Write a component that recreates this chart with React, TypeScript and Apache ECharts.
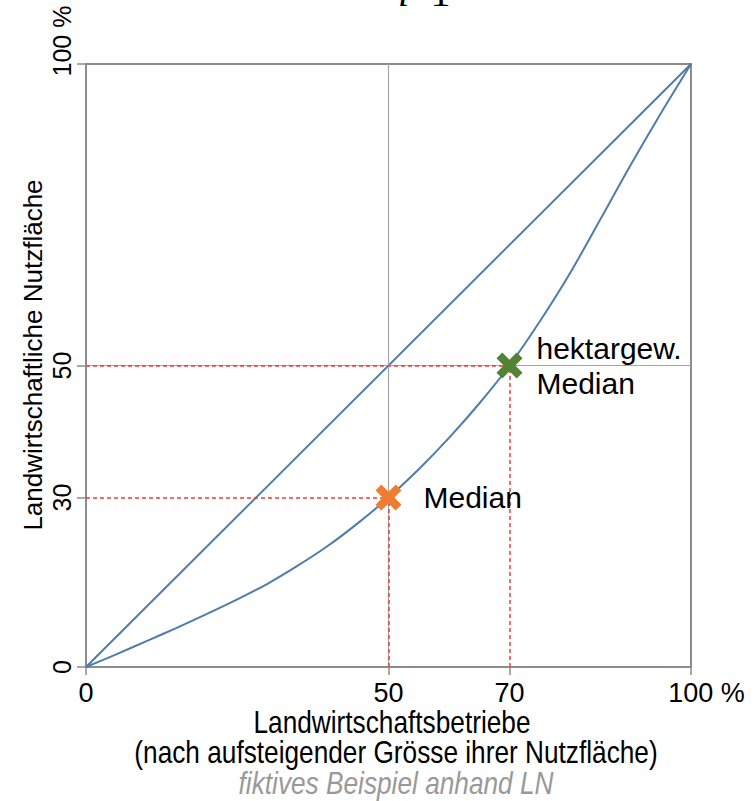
import React, { useEffect, useRef } from "react";
import * as echarts from "echarts";

// Lorenz curve (share of farms vs. share of agricultural area)
const lorenzX = [0, 5, 10, 15, 20, 25, 30, 35, 40, 45, 50, 55, 60, 65, 70, 75, 80, 85, 90, 95, 100];
const lorenzY = [0, 2.1, 4.3, 6.5, 8.8, 11.2, 13.8, 16.8, 20.1, 23.9, 28.1, 32.8, 38.0, 43.7, 50, 57.3, 65.3, 74.2, 83.2, 91.8, 100];
// line of equal distribution
const equalX = [0, 100];
const equalY = [0, 100];
// highlighted points
const medianPoint = [50, 28.1];
const hektarPoint = [70, 50];
const medianLabel = "Median";
const hektarLabel = "hektargew.\nMedian";
// ticks
const xTickValues = [0, 50, 70, 100];
const xTickLabels = ["0", "50", "70", "100 %"];
const yTickValues = [0, 28.1, 50, 100];
const yTickLabels = ["0", "30", "50", "100 %"];
// titles
const xTitle1 = "Landwirtschaftsbetriebe";
const xTitle2 = "(nach aufsteigender Grösse ihrer Nutzfläche)";
const xNote = "fiktives Beispiel anhand LN";
const yTitle = "Landwirtschaftliche Nutzfläche";

const SANS = "'Liberation Sans', Arial, sans-serif";
const SERIF = "'Liberation Serif', 'Times New Roman', serif";
const BLUE = "#4f7dab";
const RED = "#f03c3c";
const GRAY = "#8c8c8c";
const XSYM =
  "path://M0,4.5L4.5,0L10,5.5L15.5,0L20,4.5L14.5,10L20,15.5L15.5,20L10,14.5L4.5,20L0,15.5L5.5,10Z";

function labelFor(values: number[], labels: string[], v: number) {
  const i = values.findIndex((t) => Math.abs(t - v) < 1e-6);
  if (i < 0) return "";
  const s = labels[i];
  return s.indexOf("%") >= 0 ? "{p|" + s + "}" : s;
}

export default function App() {
  const ref = useRef<HTMLDivElement>(null);
  useEffect(() => {
    if (!ref.current) return;
    const chart = echarts.init(ref.current, undefined, { renderer: "svg" });
    const pairs = (xs: number[], ys: number[]) => xs.map((x, i) => [x, ys[i]]);
    const redDash = { color: RED, type: [4, 3], width: 1.5 };
    const titleText = (text: string, x: number, y: number, extra: any = {}) => ({
      type: "text",
      x,
      y,
      scaleX: 0.82,
      style: {
        text,
        fontSize: 32,
        fontFamily: SANS,
        fill: "#000",
        align: "center",
        verticalAlign: "middle",
        ...extra,
      },
    });
    chart.setOption({
      animation: false,
      backgroundColor: "#fff",
      grid: {
        left: 86,
        right: 64,
        top: 64,
        bottom: 134,
        show: true,
        borderColor: GRAY,
        borderWidth: 2,
        backgroundColor: "transparent",
      },
      xAxis: {
        type: "value",
        min: 0,
        max: 100,
        axisLine: { show: false },
        splitLine: { show: false },
        axisTick: {
          show: true,
          customValues: xTickValues,
          length: 8,
          lineStyle: { color: GRAY, width: 1.5 },
        },
        axisLabel: {
          customValues: xTickValues,
          formatter: (v: number) => labelFor(xTickValues, xTickLabels, v),
          margin: 12,
          fontSize: 27,
          fontFamily: SANS,
          color: "#000",
          rich: {
            p: { fontSize: 27, fontFamily: SANS, color: "#000", padding: [0, 0, 0, 31] },
          },
        },
      },
      yAxis: {
        type: "value",
        min: 0,
        max: 100,
        axisLine: { show: false },
        splitLine: { show: false },
        axisTick: {
          show: true,
          customValues: yTickValues,
          length: 9,
          lineStyle: { color: GRAY, width: 1.5 },
        },
        axisLabel: {
          customValues: yTickValues,
          formatter: (v: number) => labelFor(yTickValues, yTickLabels, v),
          rotate: 90,
          margin: 12,
          fontSize: 25,
          fontFamily: SANS,
          color: "#000",
          rich: {
            p: { fontSize: 25, fontFamily: SANS, color: "#000", padding: [0, 0, 0, 46] },
          },
        },
      },
      graphic: [
        {
          type: "text",
          x: 33,
          y: 355,
          rotation: Math.PI / 2,
          style: {
            text: yTitle,
            fontSize: 26,
            fontFamily: SANS,
            fill: "#000",
            align: "center",
            verticalAlign: "middle",
          },
        },
        titleText(xTitle1, 392, 722),
        titleText(xTitle2, 396, 752),
        titleText(xNote, 396, 783, { fontStyle: "italic", fill: "#999999" }),
        {
          type: "text",
          x: 398,
          y: 12,
          style: { text: "i", fontSize: 40, fontFamily: SERIF, fontStyle: "italic", fill: "#000", align: "left", verticalAlign: "bottom" },
        },
        {
          type: "text",
          x: 408,
          y: 12,
          style: { text: "=1", fontSize: 40, fontFamily: SERIF, fill: "#000", align: "left", verticalAlign: "bottom" },
        },
      ],
      series: [
        {
          type: "line",
          data: [],
          silent: true,
          markLine: {
            silent: true,
            symbol: ["none", "none"],
            label: { show: false },
            lineStyle: { color: "#a6a6a6", width: 1.2, type: "solid" },
            data: [
              { xAxis: medianPoint[0] },
              { yAxis: hektarPoint[1] },
              [{ coord: [0, hektarPoint[1]], lineStyle: redDash }, { coord: hektarPoint }],
              [{ coord: [hektarPoint[0], 0], lineStyle: redDash }, { coord: hektarPoint }],
              [{ coord: [0, medianPoint[1]], lineStyle: redDash }, { coord: medianPoint }],
              [{ coord: [medianPoint[0], 0], lineStyle: redDash }, { coord: medianPoint }],
            ],
          },
        },
        {
          type: "line",
          data: pairs(equalX, equalY),
          symbol: "none",
          lineStyle: { color: BLUE, width: 2 },
          silent: true,
        },
        {
          type: "line",
          data: pairs(lorenzX, lorenzY),
          symbol: "none",
          smooth: 0.3,
          lineStyle: { color: BLUE, width: 2 },
          silent: true,
        },
        {
          type: "scatter",
          data: [medianPoint],
          symbol: XSYM,
          symbolSize: 26,
          itemStyle: { color: "#ED7D31", opacity: 1 },
          z: 5,
          label: {
            show: true,
            position: "right",
            distance: 22,
            formatter: medianLabel,
            fontSize: 30,
            fontFamily: SANS,
            color: "#000",
          },
        },
        {
          type: "scatter",
          data: [hektarPoint],
          symbol: XSYM,
          symbolSize: 26,
          itemStyle: { color: "#548235", opacity: 1 },
          z: 5,
          label: {
            show: true,
            position: "right",
            distance: 14,
            formatter: hektarLabel,
            fontSize: 30,
            lineHeight: 35,
            fontFamily: SANS,
            color: "#000",
          },
        },
      ],
    });
    return () => chart.dispose();
  }, []);
  return (
    <div
      ref={ref}
      style={{ position: "absolute", left: 0, top: 0, width: 755, height: 801 }}
    />
  );
}
